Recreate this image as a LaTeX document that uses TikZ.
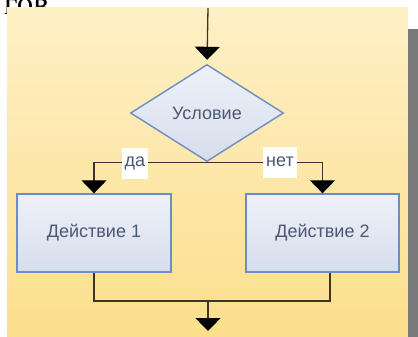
\documentclass[tikz,border=0pt]{standalone}
\usepackage{fontspec}
\setmainfont{Liberation Sans}
\newfontfamily\cutserif{Liberation Serif}
\usetikzlibrary{shapes.geometric,arrows.meta}
\definecolor{panelTop}{HTML}{FEF0C6}
\definecolor{panelBot}{HTML}{FCDF8C}
\definecolor{boxTop}{HTML}{EEF1F8}
\definecolor{boxBot}{HTML}{D6DDEC}
\definecolor{boxLine}{HTML}{6F8DC4}
\definecolor{boxText}{HTML}{4C5873}
\definecolor{flowLine}{HTML}{3A3526}
\begin{document}
\begin{tikzpicture}[x=1pt,y=-1pt,
  shape box/.style={draw=boxLine,line width=1.4pt,top color=boxTop,bottom color=boxBot,
    text=boxText,font=\fontsize{18}{20}\selectfont,inner sep=0pt},
  flow/.style={draw=flowLine,line width=1.3pt,-{Triangle[width=25pt,length=13pt,color=black]}},
  wire/.style={draw=flowLine,line width=1.3pt},
  branch/.style={fill=white,text=boxText,font=\fontsize{18}{20}\selectfont,
    inner xsep=3pt,minimum height=31pt}]
  \useasboundingbox (0,0) rectangle (418,337);
  \clip (0,0) rectangle (418,337);
  \node[anchor=base west,inner sep=0pt,font=\cutserif\fontsize{33}{36}\selectfont] (cut) at (4,15) {гов};
  \fill[top color=panelTop,bottom color=panelBot] (7,8) rectangle (408,337);
  \fill[gray!95!black] (408,29) rectangle (418,337);
  \node[shape box,diamond,minimum width=153pt,minimum height=97pt] (cond) at (207,113) {Условие};
  \node[shape box,rectangle,minimum width=154pt,minimum height=78pt] (act1) at (94,233) {Действие 1};
  \node[shape box,rectangle,minimum width=153pt,minimum height=78pt] (act2) at (322.5,233) {Действие 2};
  \coordinate (entry) at (208,8);
  \coordinate (merge) at (208,301);
  \coordinate (exit) at (208,331);
  \draw[flow,shorten >=4pt] (entry) -- (cond.north);
  \draw[flow] (cond.south) -| (act1.north);
  \draw[flow] (cond.south) -| (act2.north);
  \draw[wire] (act1.south) |- (merge) -| ([xshift=7.5pt]act2.south);
  \draw[flow] (merge) -- (exit);
  \node[branch] (yes) at (135,163) {да};
  \node[branch] (no) at (280,162) {нет};
\end{tikzpicture}
\end{document}
